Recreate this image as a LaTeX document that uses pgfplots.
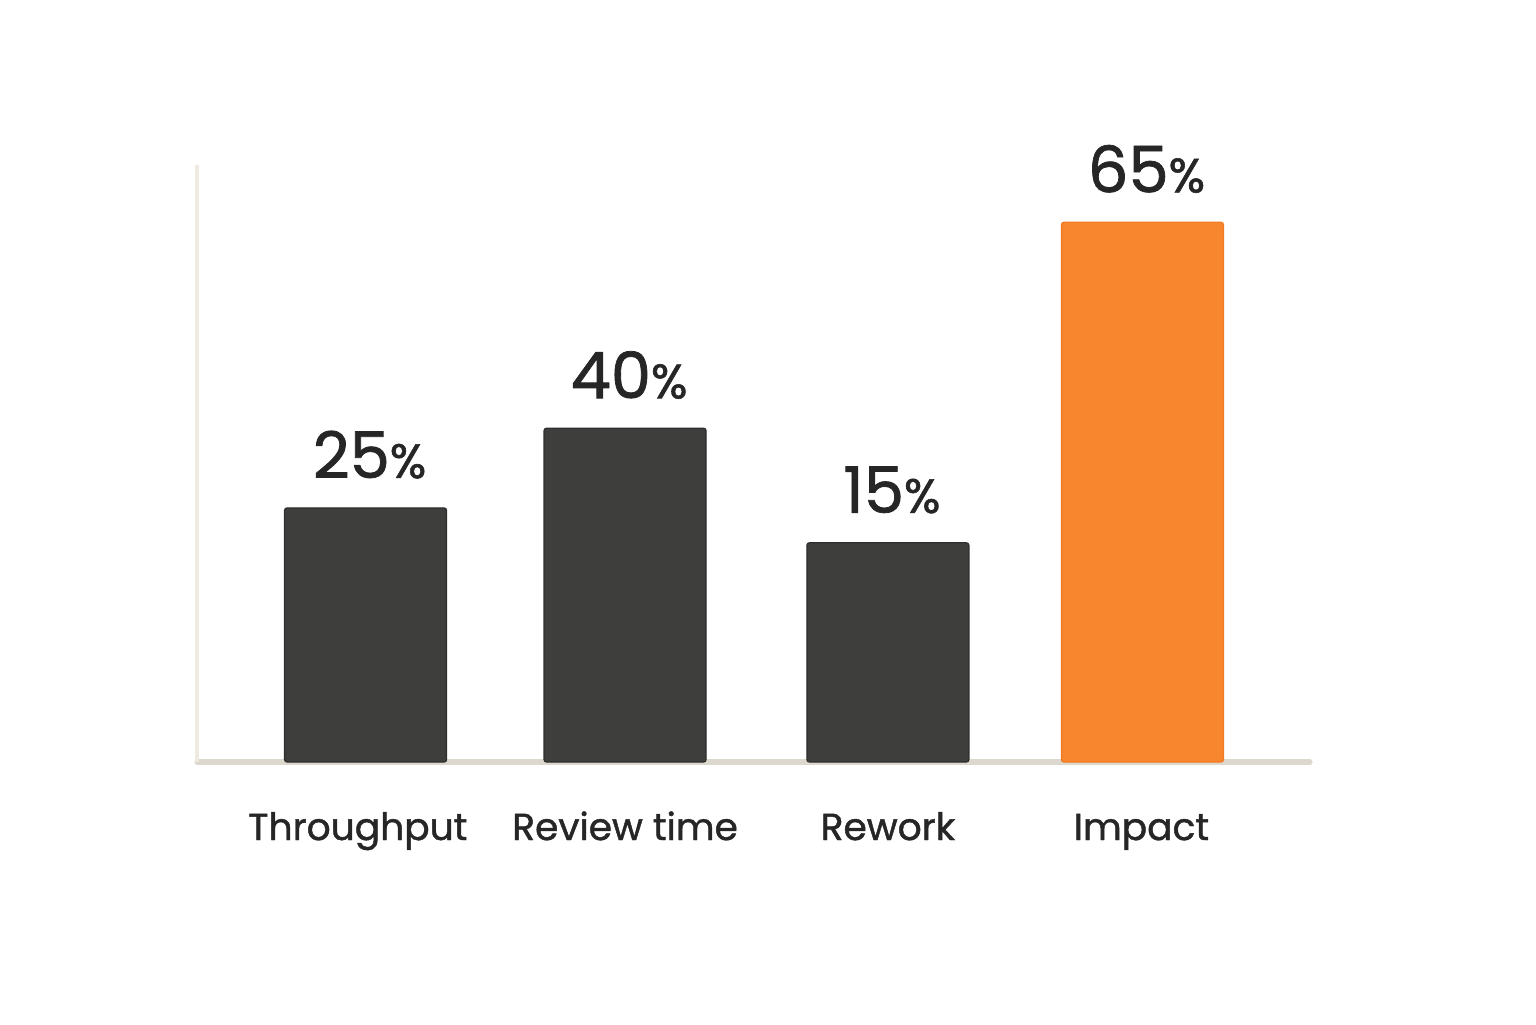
\documentclass[border=0pt]{standalone}
\usepackage{pgfplots}
\pgfplotsset{compat=1.18}
\usepackage{fontspec}
\setmainfont[FakeBold=1.2]{Poppins}
\definecolor{barDark}{HTML}{3E3E3C}
\definecolor{barDarkEdge}{HTML}{2E2E2D}
\definecolor{barOrange}{HTML}{F8862F}
\definecolor{barOrangeEdge}{HTML}{F27A22}
\definecolor{axisBottom}{HTML}{DCD8CE}
\definecolor{axisLeft}{HTML}{EEEAE0}
\definecolor{labelText}{HTML}{262626}

% value label: big digits, smaller percent sign
\newcommand\pct[1]{{\fontsize{32}{32}\selectfont #1}{\fontsize{24}{24}\selectfont\%}}

\pgfplotstableread{
x      h     lab
0      30.6  25
1.002  40.2  40
2.017  26.4  15
}\darkbars
\pgfplotstableread{
x  h     lab
3  65.0  65
}\orangebars

\begin{document}
\begin{tikzpicture}
% page = 1536x1024 px at 0.5pt per px, axis box lower left at (0,0)
\path[use as bounding box] (-98.5pt,-131pt) rectangle (669.5pt,381pt);
\begin{axis}[
  scale only axis,
  width=556.5pt,
  height=298.5pt,
  ybar,
  bar width=81pt,
  bar shift=0pt,
  xmin=-0.651, xmax=3.647,
  ymin=0, ymax=71.9,
  axis x line=bottom,
  axis y line=left,
  x axis line style={draw=axisBottom, line width=2.6pt, line cap=round, -},
  y axis line style={draw=axisLeft, line width=2.2pt, -},
  ytick=\empty,
  xtick={-0.03,1.002,2.017,2.996},
  xticklabels={Throughput, Review time, Rework, Impact},
  major tick length=0pt,
  xticklabel style={anchor=base, yshift=-39pt, inner sep=0pt,
    font=\fontsize{18.8}{19}\selectfont, text=labelText},
  clip=false,
  point meta=explicit symbolic,
  nodes near coords={\pct{\pgfplotspointmeta}},
  every node near coord/.append style={anchor=base, yshift=15pt, xshift=2pt,
    inner sep=0pt, text=labelText},
]
\addplot[fill=barDark, draw=barDarkEdge, line width=0.6pt, rounded corners=1.2pt]
  table[x=x, y=h, meta=lab] {\darkbars};
\addplot[fill=barOrange, draw=barOrangeEdge, line width=0.6pt, rounded corners=1.2pt]
  table[x=x, y=h, meta=lab] {\orangebars};
\end{axis}
\end{tikzpicture}
\end{document}
